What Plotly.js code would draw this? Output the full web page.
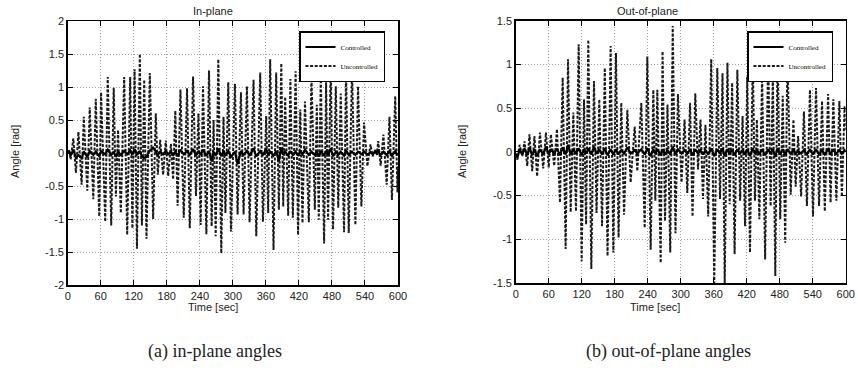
<!DOCTYPE html>
<html>
<head>
<meta charset="utf-8">
<script src="https://cdn.plot.ly/plotly-3.0.1.min.js"></script>
<style>html,body{margin:0;padding:0;background:#fff}#chart{width:858px;height:385px}</style>
</head>
<body>
<div id="chart"></div>
<script>
// ---------- data ----------
const xTicks = [0, 60, 120, 180, 240, 300, 360, 420, 480, 540, 600];
const xTickLabels = ['0', '60', '120', '180', '240', '300', '360', '420', '480', '540', '600'];
const inYTicks = [-2, -1.5, -1, -0.5, 0, 0.5, 1, 1.5, 2];
const inYLabels = ['-2', '-1.5', '-1', '-0.5', '0', '0.5', '1', '1.5', '2'];
const outYTicks = [-1.5, -1, -0.5, 0, 0.5, 1, 1.5];
const outYLabels = ['-1.5', '-1', '-0.5', '0', '0.5', '1', '1.5'];

// (a) in-plane: time [sec]
const inTime = [0, 2.5, 5.4, 10.2, 15, 19.5, 25.3, 29.2, 35.6, 40,
  46.5, 51, 57.3, 60.6, 68.2, 72.7, 79.1, 83.6, 87.5, 91.5,
  96.5, 102.6, 108.1, 113.5, 117.5, 121.5, 125.8, 131, 134.8, 139,
  143.1, 149.2, 155.2, 160, 163.7, 168, 173.3, 178.2, 182.5, 187.5,
  191.5, 195.5, 199.7, 204.8, 210.8, 216.8, 221.7, 227.7, 233, 237.5,
  241.5, 245.8, 251.9, 256.7, 261.5, 265, 268.8, 273.6, 279, 283,
  286.5, 291.7, 296.6, 303.8, 308.6, 314.7, 319.5, 325.6, 330.4, 337.6,
  342.5, 349.7, 354.6, 360.6, 364.2, 367.8, 373.9, 378.7, 383.6, 388,
  391.5, 395, 400.5, 404.5, 409, 414, 418.5, 422.5, 426.5, 431,
  438, 442.8, 448.9, 452.5, 456.1, 459.7, 465.8, 469.4, 473, 477.8,
  482, 487, 491.5, 496, 502, 505.6, 510.5, 516.5, 522.6, 527.4,
  533.5, 538.3, 544.4, 550, 554, 559, 561.5, 564, 568.5, 573.5,
  579.5, 584.5, 589, 595, 599, 600];
// (a) in-plane, uncontrolled angle [rad]
const inUncontrolled = [0, 0.05, -0.1, 0.22, -0.3, 0.32, -0.48, 0.55, -0.57, 0.69,
  -0.7, 0.82, -0.96, 0.92, -1.04, 1.15, -1.1, 0.99, -0.66, 0.35,
  -0.91, 1.15, -1.24, 1.15, -1.14, 1.27, -1.45, 1.5, -1.1, 1.11,
  -1.3, 1.21, -1.0, 0.6, -0.33, 0.2, -0.33, 0.19, -0.35, 0.14,
  -0.4, 0.64, -0.8, 0.96, -0.98, 0.98, -1.14, 1.16, -0.65, 0.6,
  -1.09, 1.01, -1.23, 1.25, -1.11, 0.5, -1.26, 1.42, -1.52, 0.55,
  -0.91, 1.07, -1.19, 1.05, -0.93, 0.92, -0.93, 1.01, -1.05, 1.11,
  -1.26, 1.22, -1.04, 0.56, -0.91, 1.42, -1.47, 1.22, -0.86, 1.36,
  -0.81, 0.85, -0.95, 1.12, -0.98, 1.24, -1.24, 0.66, -1.06, 0.78,
  -1.05, 1.17, -0.86, 0.73, -1.01, 1.15, -1.37, 1.07, -1.01, 1.34,
  -1.16, 1.01, -0.83, 0.9, -1.2, 1.24, -1.21, 1.26, -1.09, 1.01,
  -0.81, 0.46, -0.2, 0.13, -0.05, 0.06, -0.03, 0.18, -0.19, 0.28,
  -0.48, 0.55, -0.71, 0.86, -0.6, -0.2];
// (a) in-plane, controlled angle [rad]
const inControlled = [0, 0.02, -0.04, 0.05, -0.07, -0.03, -0.08, 0.02, -0.06, 0.03,
  -0.03, 0.02, -0.05, 0.03, -0.02, 0.05, -0.03, 0.02, -0.06, 0.02,
  -0.03, 0.03, -0.02, 0.04, -0.03, 0.06, -0.03, 0.03, -0.05, -0.08,
  -0.06, 0.04, 0.08, 0.02, -0.03, 0.02, -0.02, 0.03, -0.02, 0.02,
  -0.03, 0.02, -0.05, 0.05, -0.02, 0.03, -0.03, 0.06, -0.04, 0.03,
  -0.03, 0.05, -0.04, 0.03, -0.13, 0.02, -0.04, 0.07, -0.05, 0.03,
  -0.03, 0.03, -0.06, 0.02, -0.17, 0.03, -0.03, 0.03, -0.04, 0.07,
  -0.05, 0.03, -0.03, 0.06, -0.03, 0.02, -0.04, 0.03, -0.12, 0.08,
  -0.03, 0.02, -0.04, 0.03, -0.03, 0.02, -0.04, 0.03, -0.02, 0.05,
  -0.03, 0.02, -0.03, 0.02, -0.05, 0.03, -0.04, 0.03, -0.03, 0.07,
  -0.05, 0.02, -0.03, 0.02, -0.04, 0.04, -0.03, 0.02, -0.03, 0.02,
  -0.02, 0.02, -0.02, 0.01, -0.02, 0.02, -0.01, 0.02, -0.03, 0.02,
  -0.03, 0.03, -0.04, 0.03, -0.03, 0];

// (b) out-of-plane: time [sec]
const outTime = [0, 3, 7, 12, 16, 21, 25, 30, 34, 39,
  44, 50, 55, 60, 64, 70, 75, 80.5, 85.4, 90.8,
  95.1, 99.9, 104.8, 109.6, 114.5, 119.9, 124.2, 128, 132, 137.5,
  142.3, 147, 152, 157, 162, 167, 172.6, 177.5, 182.3, 187,
  192, 197, 203, 209, 216.3, 221.1, 228.4, 234.5, 239.3, 245.4,
  250.2, 253.9, 257.5, 263.6, 267, 271.5, 276, 281, 285.5, 290.5,
  295, 301.5, 307, 312, 317, 321.5, 326.5, 331.5, 336, 340.5,
  345, 350, 355.5, 361, 366.5, 371.5, 376, 380, 385, 389,
  393.5, 398, 403, 408, 412.5, 417, 421, 426, 431, 435,
  438.5, 443, 448, 453.5, 459, 463.5, 467.5, 472, 476, 481,
  485.5, 490, 494, 500, 505, 509, 513.5, 519, 524, 529.5,
  535, 540.5, 546, 551.5, 557, 562, 568, 572.5, 577.5, 583,
  588.5, 593, 598, 600];
// (b) out-of-plane, uncontrolled angle [rad]
const outUncontrolled = [-0.03, -0.09, 0.08, -0.05, 0.12, -0.16, 0.2, -0.22, 0.18, -0.28,
  0.22, -0.19, 0.22, -0.18, 0.2, -0.16, 0.26, -0.58, 0.85, -1.11,
  1.06, -0.69, 0.45, -0.68, 1.23, -1.25, 0.6, -0.83, 1.28, -1.34,
  0.81, -0.7, 0.6, -0.85, 0.96, -1.19, 1.21, -1.15, 1.13, -0.98,
  0.56, -0.72, 0.48, -0.35, 0.29, -0.22, 0.56, -0.87, 1.09, -1.12,
  0.71, -0.56, 0.71, -1.27, 1.15, -0.79, 0.54, -1.15, 1.44, -0.93,
  0.66, -0.35, 0.37, -0.47, 0.56, -0.74, 0.67, -0.2, 0.37, -0.54,
  0.31, -0.74, 1.06, -1.5, 0.96, -0.54, 0.9, -1.5, 1.02, -0.6,
  0.79, -1.17, 0.94, -0.56, 0.41, -0.85, 0.86, -1.15, 1.1, -0.56,
  0.37, -0.77, 0.86, -1.23, 1.12, -0.62, 0.88, -1.42, 1.1, -0.77,
  0.64, -1.04, 1.08, -0.49, 0.37, -0.4, 0.18, -0.51, 0.46, -0.62,
  0.71, -0.74, 0.73, -0.62, 0.58, -0.68, 0.66, -0.58, 0.6, -0.56,
  0.58, -0.51, 0.52, 0.25];
// (b) out-of-plane, controlled angle [rad]
const outControlled = [-0.02, -0.07, 0.03, -0.03, 0.04, -0.04, 0.05, -0.04, 0.03, -0.05,
  0.03, -0.03, 0.06, -0.03, 0.03, -0.02, 0.04, -0.04, 0.05, -0.03,
  0.08, -0.03, 0.03, -0.02, 0.04, -0.04, 0.03, -0.02, 0.04, -0.03,
  0.06, -0.02, 0.03, -0.03, 0.04, -0.04, 0.03, -0.03, 0.03, -0.03,
  0.02, -0.02, 0.05, -0.02, 0.02, -0.02, 0.03, -0.03, 0.04, -0.05,
  0.03, -0.02, 0.03, -0.04, 0.03, -0.03, 0.02, -0.03, 0.06, -0.03,
  0.03, -0.02, 0.02, -0.02, 0.03, -0.04, 0.03, -0.02, 0.02, -0.03,
  0.02, -0.03, 0.04, -0.05, 0.03, -0.02, 0.04, -0.05, 0.03, -0.02,
  0.03, -0.04, 0.03, -0.02, 0.02, -0.03, 0.03, -0.05, 0.04, -0.02,
  0.02, -0.03, 0.03, -0.04, 0.03, -0.02, 0.03, -0.06, 0.04, -0.03,
  0.03, -0.04, 0.03, -0.02, 0.02, -0.02, 0.01, -0.02, 0.02, -0.03,
  0.03, -0.03, 0.03, -0.03, 0.02, -0.03, 0.03, -0.02, 0.02, -0.02,
  0.02, -0.02, 0.02, 0];

// ---------- styling ----------
const SANS = 'Liberation Sans Narrow, Arial Narrow, Liberation Sans, sans-serif';
const SERIF = 'Liberation Serif, Times New Roman, serif';
const W = 858, H = 385;

const uncLine = {color: '#1a1a1a', width: 2, dash: '3px,1.6px'};
const ctlLine = {color: '#000', width: 2.2};

const traces = [
  {x: inTime, y: inUncontrolled, xaxis: 'x', yaxis: 'y', type: 'scatter', mode: 'lines',
   name: 'Uncontrolled', line: uncLine, legend: 'legend', legendrank: 2},
  {x: inTime, y: inControlled, xaxis: 'x', yaxis: 'y', type: 'scatter', mode: 'lines',
   name: 'Controlled', line: ctlLine, legend: 'legend', legendrank: 1},
  {x: outTime, y: outUncontrolled, xaxis: 'x2', yaxis: 'y2', type: 'scatter', mode: 'lines',
   name: 'Uncontrolled', line: uncLine, legend: 'legend2', legendrank: 2},
  {x: outTime, y: outControlled, xaxis: 'x2', yaxis: 'y2', type: 'scatter', mode: 'lines',
   name: 'Controlled', line: ctlLine, legend: 'legend2', legendrank: 1}
];

function xAxis(domain, anchor) {
  return {domain: domain, anchor: anchor, range: [0, 600], tickvals: xTicks, ticktext: xTickLabels,
    ticks: 'inside', ticklen: 5, tickcolor: '#000', tickwidth: 1, mirror: 'ticks',
    showline: true, linecolor: '#000', linewidth: 1.5,
    showgrid: true, gridcolor: '#a0a0a0', gridwidth: 1, griddash: '1px,2px', zeroline: false,
    tickfont: {family: SANS, size: 11, color: '#222'}, fixedrange: true};
}
function yAxis(domain, anchor, range, vals, labels) {
  return {domain: domain, anchor: anchor, range: range, tickvals: vals, ticktext: labels,
    ticks: 'inside', ticklen: 5, tickcolor: '#000', tickwidth: 1, mirror: 'ticks',
    showline: true, linecolor: '#000', linewidth: 1.5,
    showgrid: true, gridcolor: '#a0a0a0', gridwidth: 1, griddash: '1px,2px', zeroline: false,
    tickfont: {family: SANS, size: 11, color: '#222'}, fixedrange: true};
}
function legendBox(x) {
  return {x: x, y: 1 - 31 / H, xanchor: 'left', yanchor: 'top', xref: 'paper', yref: 'paper',
    bgcolor: '#fff', bordercolor: '#000', borderwidth: 1.5,
    font: {family: SERIF, size: 7, color: '#000'}, itemwidth: 30, tracegroupgap: 0,
    traceorder: 'normal'};
}
function ann(text, x, y, size, family, extra) {
  return Object.assign({text: text, x: x / W, y: 1 - y / H, xref: 'paper', yref: 'paper',
    showarrow: false, xanchor: 'center', yanchor: 'middle',
    font: {family: family, size: size, color: '#222'}}, extra || {});
}

const layout = {
  width: W, height: H, margin: {l: 0, r: 0, t: 0, b: 0},
  paper_bgcolor: '#fff', plot_bgcolor: '#fff', showlegend: true,
  xaxis: xAxis([67.7 / W, 398 / W], 'y'),
  yaxis: yAxis([(H - 285) / H, (H - 21) / H], 'x', [-2, 2], inYTicks, inYLabels),
  xaxis2: xAxis([515.7 / W, 845.7 / W], 'y2'),
  yaxis2: yAxis([(H - 283) / H, (H - 20.7) / H], 'x2', [-1.5, 1.5], outYTicks, outYLabels),
  legend: legendBox(299 / W),
  legend2: legendBox(747 / W),
  annotations: [
    ann('In-plane', 213, 11, 11, SANS),
    ann('Out-of-plane', 647, 11, 11, SANS),
    ann('Angle [rad]', 15, 152, 11, SANS, {textangle: -90}),
    ann('Angle [rad]', 462, 152, 11, SANS, {textangle: -90}),
    ann('Time [sec]', 213, 307, 11, SANS),
    ann('Time [sec]', 655, 307, 11, SANS),
    ann('(a) in-plane angles', 215, 351, 18, SERIF),
    ann('(b) out-of-plane angles', 668, 351, 18, SERIF)
  ]
};

Plotly.newPlot('chart', traces, layout, {staticPlot: true, displayModeBar: false});
</script>
</body>
</html>
